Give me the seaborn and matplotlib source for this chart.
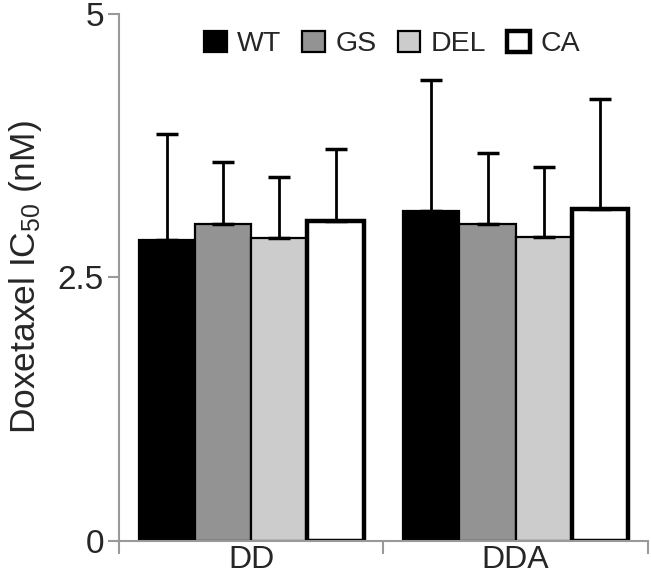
import matplotlib
matplotlib.use("Agg")
import matplotlib.pyplot as plt
import seaborn as sns
import pandas as pd
import numpy as np
from matplotlib.patches import Patch

groups = ["DD", "DDA"]
genotypes = ["WT", "GS", "DEL", "CA"]
means = {
    "WT":  [2.85, 3.13],
    "GS":  [3.01, 3.01],
    "DEL": [2.87, 2.88],
    "CA":  [3.03, 3.15],
}
err_top = {
    "WT":  [3.86, 4.37],
    "GS":  [3.59, 3.68],
    "DEL": [3.45, 3.55],
    "CA":  [3.72, 4.19],
}
colors = ["#000000", "#939393", "#cccccc", "#ffffff"]
edge_widths = [1.6, 1.6, 1.6, 3.2]
yticks = [0, 2.5, 5]
ytick_labels = ["0", "2.5", "5"]

rows = []
for g in genotypes:
    for i, grp in enumerate(groups):
        rows.append({"group": grp, "genotype": g, "value": means[g][i],
                     "err": err_top[g][i] - means[g][i]})
df = pd.DataFrame(rows)

sns.set_style("white")
plt.rcParams["font.family"] = ["Liberation Sans", "DejaVu Sans"]
plt.rcParams["mathtext.default"] = "regular"

fig = plt.figure(figsize=(6.51, 5.79), dpi=100)
ax = fig.add_axes([0.183, 0.066, 0.812, 0.910])

sns.barplot(data=df, x="group", y="value", hue="genotype", order=groups,
            hue_order=genotypes, palette=colors, edgecolor="black",
            linewidth=1.6, width=0.85, errorbar=None, ax=ax, legend=False,
            saturation=1)

# error bars and edge widths from bar patches
for gi, g in enumerate(genotypes):
    cont = ax.containers[gi]
    xs, ys, es = [], [], []
    for j, bar in enumerate(cont.patches):
        bar.set_linewidth(edge_widths[gi])
        bar.set_edgecolor("black")
        xs.append(bar.get_x() + bar.get_width() / 2)
        ys.append(bar.get_height())
        es.append(df[(df.genotype == g) & (df.group == groups[j])]["err"].values[0])
    ax.errorbar(xs, ys, yerr=[np.zeros(len(es)), es], fmt="none", ecolor="black",
                elinewidth=2, capsize=8, capthick=2.5, zorder=1)

ax.set_ylim(0, 5)
ax.set_xlim(-0.5, 1.5)
ax.set_yticks(yticks)
ax.set_yticklabels(ytick_labels, fontsize=24)
ax.set_xticks([0, 1])
ax.set_xticklabels(groups, fontsize=23)
ax.set_xticks([-0.5, 0.5, 1.5], minor=True)
ax.tick_params(axis="x", which="major", length=0, pad=3, bottom=True)
ax.tick_params(axis="x", which="minor", length=9, width=1.5, color="#999999",
               direction="out", bottom=True)
ax.tick_params(axis="y", length=8, width=1.5, color="#999999", direction="out",
               pad=3, left=True)
ax.set_xlabel("")
ax.set_ylabel("Doxetaxel IC$_{50}$ (nM)", fontsize=25.5, labelpad=10)

for s in ["top", "right"]:
    ax.spines[s].set_visible(False)
for s in ["left", "bottom"]:
    ax.spines[s].set_color("#999999")
    ax.spines[s].set_linewidth(1.5)

handles = [Patch(facecolor=c, edgecolor="black", linewidth=lw) for c, lw in zip(colors, edge_widths)]
ax.legend(handles, genotypes, loc="center", bbox_to_anchor=(0.516, 0.943), ncol=4,
          frameon=False, fontsize=20.5, handlelength=0.8, handleheight=0.8,
          handletextpad=0.35, columnspacing=0.75)

fig.savefig("out.png", dpi=100)
